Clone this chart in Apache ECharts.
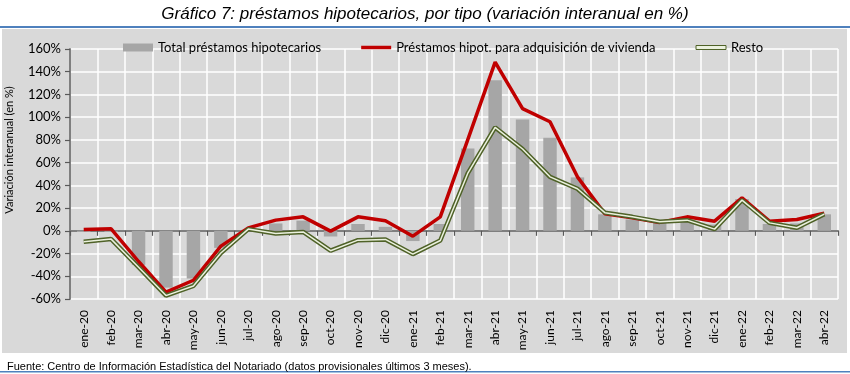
<!DOCTYPE html>
<html>
<head>
<meta charset="utf-8">
<script src="https://cdn.jsdelivr.net/npm/echarts@6/dist/echarts.min.js"></script>
<style>html,body{margin:0;padding:0;background:#fff}#c{width:850px;height:374px}</style>
</head>
<body>
<div id="c"></div>
<script>
const categories = ['ene-20','feb-20','mar-20','abr-20','may-20','jun-20','jul-20','ago-20','sep-20','oct-20','nov-20','dic-20',
  'ene-21','feb-21','mar-21','abr-21','may-21','jun-21','jul-21','ago-21','sep-21','oct-21','nov-21','dic-21',
  'ene-22','feb-22','mar-22','abr-22'];
const totalValues = [-1, -1, -30, -50, -42, -15, 1, 6.5, 9, -5, 6, 3.5,
  -9, 6, 72.5, 132.5, 98, 82, 47, 14.5, 10, 7, 8, 5.5,
  28, 6, 6.5, 14.5];
const viviendaValues = [1.2, 1.8, -27, -54, -43.5, -13.5, 2.6, 9.4, 12.3, -0.3, 12.3, 8.8,
  -4.7, 12.3, 80, 148.5, 107.5, 96, 47.5, 15, 11.4, 7.4, 12.3, 8.5,
  29, 8.5, 10, 15.5];
const restoValues = [-9.7, -7.3, -32, -57, -48.5, -19.5, 1.5, -2.3, -1, -17.5, -8.2, -7.6,
  -20.5, -8.5, 50.5, 91, 72, 47.5, 37, 16, 12.3, 8, 9.4, 1.5,
  27, 7, 2.7, 14.7];
const yTicks = {min: -60, max: 160, interval: 20};

const chart = echarts.init(document.getElementById('c'), null, {renderer: 'canvas'});
const FONT = 'Lato';
chart.setOption({
  backgroundColor: '#ffffff',
  animation: false,
  title: [
    {text: 'Gráfico 7: préstamos hipotecarios, por tipo (variación interanual en %)', left: 'center', top: 1,
     textStyle: {fontFamily: 'Liberation Sans', fontStyle: 'italic', fontWeight: 'normal', fontSize: 17, color: '#000'}},
    {text: 'Fuente: Centro de Información Estadística del Notariado (datos provisionales últimos 3 meses).', left: 2, top: 356,
     textStyle: {fontFamily: 'Liberation Sans', fontWeight: 'normal', fontSize: 11, color: '#000'}}
  ],
  graphic: [
    {type: 'rect', z: -10, shape: {x: 2, y: 29, width: 845, height: 324}, style: {fill: '#d9d9d9'}},
    {type: 'rect', z: -9, shape: {x: 0, y: 26, width: 850, height: 2}, style: {fill: '#4f81bd'}},
    {type: 'rect', z: -9, shape: {x: 0, y: 371, width: 850, height: 1.5}, style: {fill: '#4f81bd'}},
    {type: 'text', z: 10, x: 9, y: 150, rotation: Math.PI / 2,
     style: {text: 'Variación interanual (en %)', fontFamily: FONT, fontSize: 11, fill: '#000', align: 'center', verticalAlign: 'middle'}}
  ],
  legend: {
    left: 118, top: 36, itemGap: 40, itemWidth: 30, itemHeight: 8,
    textStyle: {fontFamily: FONT, fontSize: 13, color: '#000'},
    data: [
      {name: 'Total préstamos hipotecarios', icon: 'rect', itemStyle: {color: '#a6a6a6'}},
      {name: 'Préstamos hipot. para adquisición de vivienda', icon: 'path://M0,0 L30,0 L30,3.5 L0,3.5 Z', itemStyle: {color: '#c00000'}},
      {name: 'Resto', icon: 'path://M0,0 L30,0 L30,4 L0,4 Z', itemStyle: {color: '#ebf1de', borderColor: '#4f6228', borderWidth: 1}}
    ]
  },
  grid: {left: 70, right: 12, top: 49, bottom: 75},
  xAxis: [
    {type: 'category', data: categories, position: 'bottom',
     axisLine: {show: false, onZero: false}, axisTick: {show: false},
     axisLabel: {rotate: 90, margin: 11, interval: 0, fontFamily: FONT, fontSize: 12, color: '#000'},
     splitLine: {show: true, interval: 0, lineStyle: {color: '#ffffff', width: 1.5}}},
    {type: 'category', data: categories, position: 'bottom',
     axisLine: {show: true, onZero: true, lineStyle: {color: '#7f7f7f', width: 2}},
     axisTick: {show: true, interval: 0, length: 5, lineStyle: {color: '#595959', width: 1.2}},
     axisLabel: {show: false}, splitLine: {show: false}}
  ],
  yAxis: {
    type: 'value', min: yTicks.min, max: yTicks.max, interval: yTicks.interval,
    axisLine: {show: true, lineStyle: {color: '#7f7f7f', width: 2}},
    axisTick: {show: true, length: 5, lineStyle: {color: '#595959', width: 1.2}},
    axisLabel: {formatter: '{value}%', margin: 9, fontFamily: FONT, fontSize: 13, color: '#000'},
    splitLine: {show: true, lineStyle: {color: '#ffffff', width: 1.5}}
  },
  series: [
    {name: 'Total préstamos hipotecarios', type: 'bar', data: totalValues, barWidth: '49%',
     itemStyle: {color: '#a6a6a6'}, z: 2},
    {name: 'Préstamos hipot. para adquisición de vivienda', type: 'line', data: viviendaValues, symbol: 'none',
     lineStyle: {color: '#c00000', width: 3.5}, itemStyle: {color: '#c00000'}, z: 3},
    {name: 'Resto', type: 'line', data: restoValues, symbol: 'none',
     lineStyle: {color: '#4f6228', width: 4.5}, itemStyle: {color: '#4f6228'}, z: 4},
    {name: 'Resto_inner', type: 'line', data: restoValues, symbol: 'none',
     lineStyle: {color: '#ebf1de', width: 1.5}, itemStyle: {color: '#ebf1de'}, z: 5, silent: true}
  ]
});
</script>
</body>
</html>
